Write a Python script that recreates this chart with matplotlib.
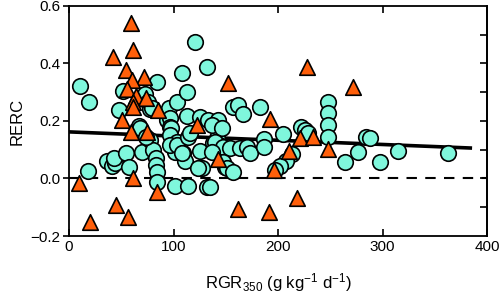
import matplotlib
matplotlib.use("Agg")
import matplotlib.pyplot as plt
import numpy as np

plt.rcParams['font.family'] = ['Liberation Sans', 'DejaVu Sans']
plt.rcParams['mathtext.fontset'] = 'custom'
plt.rcParams['mathtext.rm'] = 'Liberation Sans'
plt.rcParams['mathtext.it'] = 'Liberation Sans:italic'

# circles (species group 1)
circ_x = [11, 19, 18.5, 36.5, 41, 44, 43, 48, 52, 55, 57,
          67, 72.5, 76, 77.5, 79, 68, 69.5, 77.5, 80.5, 74,
          83, 83, 84, 84, 84, 93.5, 96, 96.7, 96.7, 98, 96.7, 103.6, 103,
          101.4, 96.7, 103, 101.4, 108.4, 112.6, 112.6, 109.4, 111, 114,
          115.8, 107.8, 114.2, 120.6, 125.4, 125.4, 127, 131.8, 133.3,
          131.8, 138, 142.5, 142, 144, 146, 149.3, 136.5, 146,
          139.7, 147.7, 154, 163.6, 170, 173, 147.7, 151, 157, 136.5,
          123.7, 135, 157.2, 162, 166.8, 182.8, 187, 187, 205,
          222, 226, 229, 213, 208, 202, 197, 248, 248, 248, 248,
          264, 277, 284, 288, 297.6, 315, 363]
circ_y = [0.32, 0.265, 0.025, 0.06, 0.042, 0.053, 0.072, 0.238, 0.303, 0.088, 0.041,
          0.183, 0.293, 0.267, 0.24, 0.245, 0.175, 0.093, 0.134, 0.10, 0.145,
          0.07, 0.047, 0.024, -0.012, 0.335, 0.203, 0.244, 0.209, 0.18, 0.175, 0.151, 0.267, 0.128,
          0.093, 0.116, 0.116, -0.025, 0.366, 0.302, 0.218, 0.088, 0.062, 0.145,
          0.157, 0.09, -0.027, 0.476, 0.215, 0.095, 0.035, 0.389, 0.203,
          -0.031, 0.122, 0.205, 0.14, 0.115, 0.10, 0.041, 0.186, 0.175,
          0.128, 0.11, 0.105, 0.105, 0.11, 0.088, 0.058, 0.035, 0.023, 0.093,
          0.035, -0.028, 0.250, 0.255, 0.224, 0.250, 0.136, 0.11, 0.155,
          0.18, 0.169, 0.159, 0.085, 0.062, 0.042, 0.03, 0.267, 0.227, 0.186, 0.145,
          0.058, 0.093, 0.143, 0.14, 0.058, 0.096, 0.088]

# triangles (species group 2)
tri_x = [59, 61, 42.4, 54.5, 72, 60, 55.5, 64.5, 74, 61, 61, 84.7, 50.5,
         59.5, 74.5, 122.8, 152.5, 227.4, 272, 192.5, 142.5, 221, 233.8,
         211, 196.5, 248, 10, 61.5, 84.5, 44.7, 20, 56.8, 162, 191.4, 218.5]
tri_y = [0.542, 0.445, 0.424, 0.376, 0.354, 0.343, 0.311, 0.286, 0.281, 0.266,
         0.250, 0.238, 0.205, 0.163, 0.160, 0.186, 0.331, 0.389, 0.317, 0.208,
         0.067, 0.140, 0.143, 0.095, 0.028, 0.101, -0.017, 0.0, -0.046, -0.092,
         -0.150, -0.133, -0.107, -0.118, -0.069]

# regression line
fit_x = [0, 384]
fit_intercept = 0.162
fit_slope = -0.000146

fig = plt.figure(figsize=(5, 2.95), dpi=100)
ax = fig.add_axes([0.138, 0.2, 0.836, 0.78])

ax.axhline(0, color='black', linestyle=(0, (5, 4)), linewidth=1.5, zorder=1)
fx = np.array(fit_x)
ax.plot(fx, fit_intercept + fit_slope * fx, color='black', linewidth=2.6, zorder=2)

ax.scatter(circ_x, circ_y, s=125, marker='o', facecolor='#7ff7dc',
           edgecolor='black', linewidth=1.2, zorder=3)
ax.scatter(tri_x, tri_y, s=125, marker='^', facecolor='#ff5f0a',
           edgecolor='black', linewidth=1.2, zorder=4)

ax.set_xlim(0, 400)
ax.set_ylim(-0.2, 0.6)
ax.set_xticks([0, 100, 200, 300, 400])
ax.set_yticks([-0.2, 0.0, 0.2, 0.4, 0.6])
ax.set_yticklabels(['\u22120.2', '0.0', '0.2', '0.4', '0.6'])
ax.tick_params(axis='x', direction='in', top=True, length=5, width=1.2,
               labelsize=11, pad=3)
ax.tick_params(axis='y', direction='out', length=4, width=1.2, labelsize=11, pad=2)
for s in ax.spines.values():
    s.set_linewidth(1.3)

# right-side ticks every 0.1
sec = ax.secondary_yaxis('right')
sec.set_yticks(np.arange(-0.1, 0.6, 0.1))
sec.tick_params(direction='in', length=5, width=1.2, labelright=False)
sec.spines['right'].set_linewidth(1.3)

ax.set_xlabel('RGR$_{350}$ (g kg$^{-1}$ d$^{-1}$)', fontsize=12, labelpad=12)
ax.set_ylabel('RERC', fontsize=12, labelpad=4)

fig.savefig('out.png', dpi=100)
